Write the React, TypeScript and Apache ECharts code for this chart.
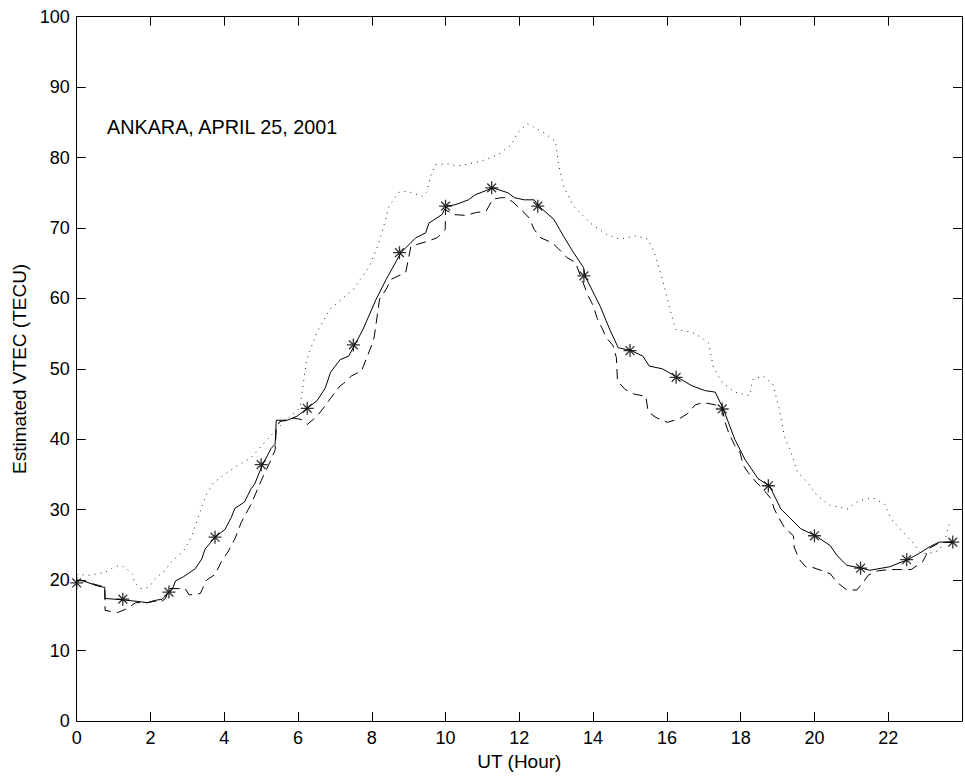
import React, { useEffect, useRef } from "react";
import * as echarts from "echarts";

// UT (hour), VTEC (TECU)
const solidX = [0, 0.18, 0.49, 0.71, 0.76, 0.77, 1.25, 1.61, 1.92, 2.1, 2.32, 2.5, 2.6, 2.68, 2.9, 3.21, 3.39, 3.48, 3.75, 4.02, 4.19, 4.29, 4.55, 4.73, 4.82, 5.04, 5.27, 5.38, 5.41, 5.71, 5.98, 6.25, 6.52, 6.74, 6.88, 7.14, 7.37, 7.54, 7.76, 8.12, 8.39, 8.79, 9.19, 9.46, 9.55, 9.9, 10.02, 10.26, 10.62, 10.8, 11.28, 11.69, 11.87, 12.13, 12.4, 12.53, 12.94, 13.2, 13.47, 13.74, 13.78, 14.19, 14.45, 14.68, 15.03, 15.35, 15.52, 15.88, 16.28, 16.68, 17.04, 17.31, 17.53, 17.84, 18.11, 18.47, 18.78, 19.09, 19.36, 19.63, 20.03, 20.43, 20.61, 20.88, 21.28, 21.5, 22.04, 22.53, 22.84, 23.11, 23.38, 23.75];
const solidY = [20.0, 19.9, 19.3, 19.0, 19.0, 17.4, 17.2, 17.0, 16.8, 17.1, 17.3, 18.3, 18.8, 19.9, 20.5, 21.6, 23.0, 24.4, 26.1, 27.2, 28.9, 30.2, 31.1, 33.0, 33.6, 36.4, 38.7, 39.3, 42.7, 42.7, 43.3, 44.4, 45.5, 47.3, 49.5, 51.3, 51.8, 53.4, 55.6, 59.9, 62.7, 66.5, 68.6, 69.3, 70.7, 71.9, 73.1, 73.3, 74.0, 74.7, 75.7, 75.0, 74.3, 74.0, 74.0, 73.1, 71.2, 68.8, 66.5, 64.4, 63.2, 58.9, 55.6, 53.0, 52.6, 51.8, 50.4, 50.0, 48.8, 47.6, 46.9, 46.7, 44.3, 40.0, 37.2, 34.4, 33.4, 30.1, 28.7, 27.3, 26.3, 24.9, 23.5, 22.1, 21.7, 21.4, 21.9, 22.9, 23.8, 24.7, 25.4, 25.4];

const markerX = [0, 1.25, 2.5, 3.75, 5.0, 6.25, 7.5, 8.75, 10.0, 11.25, 12.5, 13.75, 15.0, 16.25, 17.5, 18.75, 20.0, 21.25, 22.5, 23.75];
const markerY = [19.6, 17.3, 18.3, 26.1, 36.4, 44.4, 53.4, 66.5, 73.1, 75.7, 73.1, 63.2, 52.6, 48.8, 44.3, 33.4, 26.3, 21.7, 22.9, 25.4];

const dashedX = [0, 0.18, 0.49, 0.71, 0.76, 0.77, 1.11, 1.34, 1.6, 1.92, 2.1, 2.28, 2.41, 2.5, 2.94, 3.05, 3.35, 3.52, 3.75, 3.92, 4.1, 4.3, 4.46, 4.73, 4.91, 5.0, 5.26, 5.38, 5.41, 5.5, 5.89, 6.1, 6.25, 6.52, 6.74, 6.88, 7.14, 7.23, 7.45, 7.72, 7.85, 8.03, 8.07, 8.21, 8.39, 8.52, 8.92, 9.06, 9.5, 9.77, 9.99, 10.0, 10.2, 10.53, 10.84, 11.1, 11.28, 11.51, 11.64, 11.82, 12.09, 12.27, 12.4, 12.58, 12.89, 13.07, 13.29, 13.52, 13.87, 14.01, 14.1, 14.23, 14.36, 14.54, 14.63, 14.66, 14.86, 15.12, 15.43, 15.48, 15.57, 15.7, 16.01, 16.33, 16.55, 16.77, 17.0, 17.31, 17.49, 17.58, 17.67, 17.84, 17.98, 18.07, 18.2, 18.42, 18.6, 18.83, 18.91, 19.05, 19.18, 19.43, 19.45, 19.58, 19.76, 19.9, 20.17, 20.43, 20.61, 20.88, 21.15, 21.32, 21.46, 21.7, 22.0, 22.35, 22.62, 22.93, 23.02, 23.11, 23.38, 23.75];
const dashedY = [20.0, 19.9, 19.4, 19.1, 19.0, 15.7, 15.4, 15.9, 16.8, 16.8, 17.0, 16.9, 17.4, 18.8, 18.8, 17.9, 18.1, 20.0, 20.8, 22.6, 24.0, 26.0, 28.2, 30.8, 33.0, 34.1, 37.0, 38.5, 41.5, 42.5, 43.0, 42.8, 42.1, 43.3, 44.8, 45.8, 47.6, 47.9, 49.0, 49.7, 51.4, 53.8, 54.7, 59.9, 61.3, 62.7, 63.7, 67.4, 68.1, 68.6, 69.8, 72.6, 71.9, 71.8, 72.2, 72.4, 74.1, 74.3, 74.3, 73.7, 72.4, 71.4, 69.8, 68.6, 67.9, 67.0, 65.8, 65.1, 60.3, 58.9, 57.3, 55.9, 54.4, 53.3, 51.6, 48.3, 47.1, 46.4, 46.1, 44.3, 43.6, 43.1, 42.4, 42.9, 43.6, 44.9, 45.2, 44.9, 44.6, 42.4, 41.0, 39.1, 38.2, 36.3, 35.3, 33.9, 33.0, 31.5, 30.1, 28.7, 27.5, 26.3, 24.7, 23.0, 21.9, 21.9, 21.4, 20.9, 19.7, 18.6, 18.6, 19.7, 20.7, 21.3, 21.5, 21.5, 21.5, 22.6, 23.5, 24.5, 25.3, 25.4];

const dottedX = [0, 0.36, 0.76, 1.03, 1.2, 1.38, 1.52, 1.56, 1.74, 1.96, 2.1, 2.28, 2.41, 2.54, 2.72, 2.9, 3.1, 3.3, 3.5, 3.7, 4.0, 4.37, 4.73, 5.0, 5.26, 5.62, 5.98, 6.05, 6.11, 6.24, 6.51, 6.87, 7.5, 7.94, 8.16, 8.3, 8.47, 8.74, 8.97, 9.37, 9.5, 9.59, 9.72, 10.08, 10.31, 10.53, 10.97, 11.42, 11.78, 11.95, 12.22, 12.67, 12.98, 13.07, 13.2, 13.47, 13.92, 14.36, 14.72, 15.17, 15.48, 15.66, 15.88, 16.06, 16.24, 16.68, 16.95, 17.13, 17.26, 17.49, 17.84, 18.24, 18.33, 18.6, 18.87, 19.05, 19.18, 19.36, 19.54, 19.81, 20.07, 20.43, 20.92, 21.05, 21.23, 21.59, 21.9, 22.08, 22.35, 22.66, 22.88, 23.11, 23.38, 23.55, 23.64, 23.78];
const dottedY = [20.8, 20.7, 21.1, 21.9, 22.1, 21.5, 20.8, 19.7, 18.8, 19.0, 20.0, 20.9, 21.4, 22.5, 23.3, 24.2, 26.0, 29.0, 32.0, 33.8, 35.0, 36.3, 37.4, 39.0, 40.5, 42.5, 44.1, 44.5, 46.7, 51.4, 55.2, 58.5, 61.3, 64.6, 67.4, 69.8, 73.1, 75.1, 75.2, 74.5, 75.2, 77.3, 79.0, 79.1, 78.8, 79.0, 79.5, 80.4, 81.8, 83.5, 84.8, 83.5, 82.3, 78.8, 75.9, 73.1, 70.7, 69.1, 68.4, 68.9, 68.4, 66.5, 62.7, 58.9, 55.6, 55.2, 54.4, 53.7, 50.2, 48.1, 46.7, 46.2, 48.5, 49.0, 47.8, 44.3, 40.5, 38.2, 35.3, 33.9, 32.0, 30.6, 30.1, 30.8, 31.3, 31.7, 30.8, 28.7, 27.1, 25.4, 23.8, 23.8, 24.2, 25.9, 27.8, 28.2];

const xTicks = [0, 2, 4, 6, 8, 10, 12, 14, 16, 18, 20, 22];
const annotation = "ANKARA, APRIL 25, 2001";
const xTitle = "UT (Hour)";
const yTitle = "Estimated VTEC (TECU)";

const FONT = "'Liberation Sans', Arial, Helvetica, sans-serif";
const ASTERISK = "path://M5,0L5,10M0,5L10,5M1.6,1.6L8.4,8.4M1.6,8.4L8.4,1.6";

const pairs = (xs: number[], ys: number[]) => xs.map((x, i) => [x, ys[i]]);

export default function App() {
  const ref = useRef<HTMLDivElement>(null);
  useEffect(() => {
    if (!ref.current) return;
    const chart = echarts.init(ref.current, null, { renderer: "svg" });
    const tickStyle = { show: true, inside: true, length: 9, lineStyle: { color: "#000", width: 1 } };
    const lineStyle = { show: true, onZero: false, lineStyle: { color: "#000", width: 1 } };
    chart.setOption({
      animation: false,
      backgroundColor: "#fff",
      grid: { left: 76.7, top: 16.7, width: 896.7, height: 706, containLabel: false },
      xAxis: [
        {
          type: "value", min: 0, max: 24, interval: 2, position: "bottom",
          axisLine: lineStyle, axisTick: tickStyle, splitLine: { show: false },
          axisLabel: {
            color: "#000", fontSize: 18, fontFamily: FONT, margin: 8,
            formatter: (v: number) => (xTicks.includes(v) ? String(v) : ""),
          },
          name: xTitle, nameLocation: "middle", nameGap: 31,
          nameTextStyle: { color: "#000", fontSize: 19, fontFamily: FONT },
        },
        {
          type: "value", min: 0, max: 24, interval: 2, position: "top",
          axisLine: lineStyle, axisTick: tickStyle, splitLine: { show: false },
          axisLabel: { show: false },
        },
      ],
      yAxis: [
        {
          type: "value", min: 0, max: 100, interval: 10, position: "left",
          axisLine: lineStyle, axisTick: tickStyle, splitLine: { show: false },
          axisLabel: { color: "#000", fontSize: 18, fontFamily: FONT, margin: 7 },
          name: yTitle, nameLocation: "middle", nameGap: 42, nameRotate: 90,
          nameTextStyle: { color: "#000", fontSize: 19, fontFamily: FONT },
        },
        {
          type: "value", min: 0, max: 100, interval: 10, position: "right",
          axisLine: lineStyle, axisTick: tickStyle, splitLine: { show: false },
          axisLabel: { show: false },
        },
      ],
      series: [
        {
          type: "line", data: pairs(solidX, solidY), showSymbol: false, symbol: "none",
          lineStyle: { color: "#000", width: 1, type: "solid" }, z: 3,
        },
        {
          type: "line", data: pairs(dashedX, dashedY), showSymbol: false, symbol: "none",
          lineStyle: { color: "#000", width: 1, type: [10, 6] }, z: 2,
        },
        {
          type: "line", data: pairs(dottedX, dottedY), showSymbol: false, symbol: "none",
          lineStyle: { color: "#222", width: 1, type: [1, 5] }, z: 2,
        },
        {
          type: "scatter", data: pairs(markerX, markerY), symbol: ASTERISK, symbolSize: 13,
          itemStyle: { color: "none", borderColor: "#000", borderWidth: 1.3 }, z: 4,
        },
      ],
      graphic: [
        {
          type: "text", left: 107, top: 117,
          style: { text: annotation, fill: "#000", fontSize: 19.8, fontFamily: FONT },
        },
      ],
    });
    return () => chart.dispose();
  }, []);
  return (
    <div style={{ position: "fixed", left: 0, top: 0, width: 965, height: 776, overflow: "hidden", background: "#fff" }}>
      <div ref={ref} style={{ width: 965, height: 776 }} />
    </div>
  );
}
